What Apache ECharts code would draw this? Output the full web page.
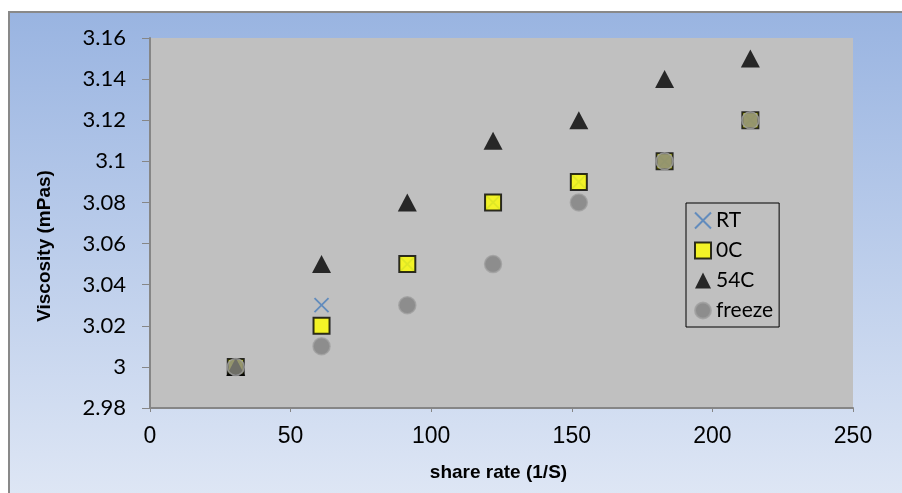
<!DOCTYPE html>
<html><head><meta charset="utf-8">
<script src="https://cdn.jsdelivr.net/npm/echarts@6/dist/echarts.min.js"></script>
<style>html,body{margin:0;padding:0;background:#fff}#c{width:902px;height:493px}</style>
</head><body><div id="c"></div>
<script>
var shareRate = [30.5, 61, 91.5, 122, 152.5, 183, 213.5];
var rtValues = [3.00, 3.03, 3.05, 3.08, 3.09, 3.10, 3.12];
var c0Values = [3.00, 3.02, 3.05, 3.08, 3.09, 3.10, 3.12];
var c54Values = [3.00, 3.05, 3.08, 3.11, 3.12, 3.14, 3.15];
var freezeValues = [3.00, 3.01, 3.03, 3.05, 3.08, 3.10, 3.12];
var seriesNames = ['RT', '0C', '54C', 'freeze'];
var xTitle = 'share rate (1/S)';
var yTitle = 'Viscosity (mPas)';

function pairs(v){ return shareRate.map(function(x,i){ return [x, v[i]]; }); }

var chart = echarts.init(document.getElementById('c'));
var crossPath = 'path://M0,0L10,10M10,0L0,10';
chart.setOption({
  animation: false,
  graphic: [{
    type: 'rect', z: -10, silent: true,
    shape: {x: 9, y: 12, width: 900, height: 490},
    style: {
      fill: new echarts.graphic.LinearGradient(0,0,0,1,[{offset:0,color:'#99b4e1'},{offset:1,color:'#dfe7f5'}]),
      stroke: '#898989', lineWidth: 2
    }
  }, {
    type: 'text', x: 45, y: 246, rotation: Math.PI / 2,
    style: {text: yTitle, align: 'center', verticalAlign: 'middle',
      fontFamily: 'Liberation Sans', fontWeight: 'bold', fontSize: 19, fill: '#000'}
  }],
  grid: {left: 150, top: 38, right: 49, bottom: 85, show: true, backgroundColor: '#c0c0c0', borderWidth: 0,
    outerBoundsMode: 'none', containLabel: false},
  legend: {
    orient: 'vertical', left: 686, top: 203,
    width: 97, height: 122,
    padding: [7, 6, 6, 8], itemGap: 9,
    itemWidth: 16, itemHeight: 16,
    backgroundColor: '#c0c0c0', borderColor: '#000', borderWidth: 1,
    textStyle: {fontFamily: 'Lato', fontSize: 21, color: '#000'},
    data: [
      {name: 'RT'}, {name: '0C'}, {name: '54C'}, {name: 'freeze'}
    ]
  },
  xAxis: {
    type: 'value', min: 0, max: 250, interval: 50,
    name: xTitle, nameLocation: 'middle', nameGap: 55,
    nameTextStyle: {fontFamily: 'Liberation Sans', fontWeight: 'bold', fontSize: 19, color: '#000', padding: [0, 6, 0, 0]},
    axisLine: {show: true, lineStyle: {color: '#868686', width: 2}},
    axisTick: {show: true, length: 4, lineStyle: {color: '#868686', width: 1}},
    axisLabel: {fontFamily: 'Liberation Sans', fontSize: 23, color: '#000', margin: 17},
    splitLine: {show: false}
  },
  yAxis: {
    type: 'value', min: 2.98, max: 3.16, interval: 0.02,
    axisLine: {show: true, lineStyle: {color: '#868686', width: 2}},
    axisTick: {show: true, length: 8, lineStyle: {color: '#868686', width: 1}},
    axisLabel: {fontFamily: 'Lato', fontSize: 22, color: '#000', margin: 24,
      formatter: function(v){ return String(parseFloat(v.toFixed(2))); }},
    splitLine: {show: false}
  },
  series: [
    {name: seriesNames[0], type: 'scatter', data: pairs(rtValues), symbol: crossPath, symbolSize: 14,
     itemStyle: {color: 'rgba(0,0,0,0)', borderColor: '#4a7ebb', borderWidth: 1.8}},
    {name: seriesNames[1], type: 'scatter', data: pairs(c0Values), symbol: 'rect', symbolSize: 16,
     itemStyle: {color: '#ffff00', borderColor: '#000', borderWidth: 2}},
    {name: seriesNames[2], type: 'scatter', data: pairs(c54Values), symbol: 'triangle', symbolSize: [19, 18],
     itemStyle: {color: '#000', borderColor: '#000', borderWidth: 0}},
    {name: seriesNames[3], type: 'scatter', data: pairs(freezeValues), symbol: 'circle', symbolSize: 17,
     itemStyle: {color: '#808080', borderColor: '#a0a0a0', borderWidth: 1.5}}
  ]
});
</script>
</body></html>
